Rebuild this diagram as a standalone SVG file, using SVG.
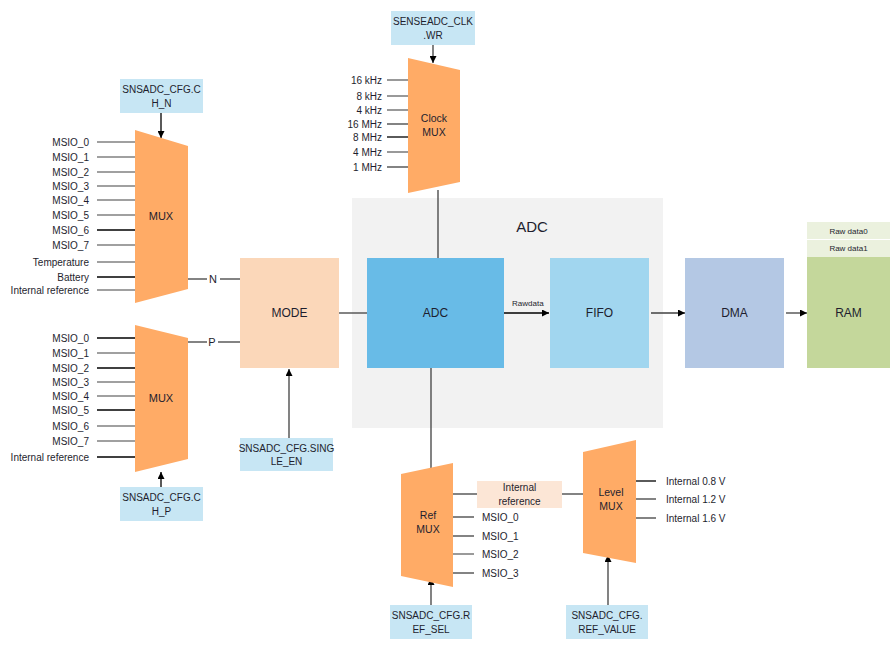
<svg xmlns="http://www.w3.org/2000/svg" width="890" height="646" viewBox="0 0 890 646">
<defs>
<style>
text{font-family:"Liberation Sans",Arial,sans-serif;fill:#1e1e2e;}
.s{font-size:10px;}
.r{text-anchor:end;}
.m{text-anchor:middle;}
.b{font-size:12px;}
.mux{fill:#FFAB66;}
.cfg{fill:#C7E6F4;}
.lk{stroke:#000;stroke-width:1.3;fill:none;}
.lg{stroke:#808080;stroke-width:1.6;fill:none;}
.ld{stroke:#404040;stroke-width:1.3;fill:none;}
</style>
<marker id="ah" viewBox="0 0 10 10" refX="10" refY="5" markerWidth="7" markerHeight="7" markerUnits="userSpaceOnUse" orient="auto">
<path d="M0,0 L10,5 L0,10 z" fill="#000"/>
</marker>
</defs>
<rect width="890" height="646" fill="#fff"/>

<g id="adc-area">
<rect x="352" y="198" width="311" height="230" fill="#F2F2F2"/>
<text x="532" y="232" class="m" font-size="15">ADC</text>
</g>

<g id="connectors">
<!-- MUX N inputs -->
<line x1="97" y1="142" x2="135" y2="142" class="lg"/>
<line x1="97" y1="157" x2="135" y2="157" class="lg"/>
<line x1="97" y1="172" x2="135" y2="172" class="lg"/>
<line x1="97" y1="186" x2="135" y2="186" class="lg"/>
<line x1="97" y1="200" x2="135" y2="200" class="lg"/>
<line x1="97" y1="215" x2="135" y2="215" class="lg"/>
<line x1="97" y1="230" x2="135" y2="230" class="lk"/>
<line x1="97" y1="245" x2="135" y2="245" class="lg"/>
<line x1="97" y1="262" x2="135" y2="262" class="lg"/>
<line x1="97" y1="277" x2="135" y2="277" class="lk"/>
<line x1="97" y1="290" x2="135" y2="290" class="lg"/>
<!-- MUX P inputs -->
<line x1="97" y1="338" x2="135" y2="338" class="lk"/>
<line x1="97" y1="353" x2="135" y2="353" class="lg"/>
<line x1="97" y1="368" x2="135" y2="368" class="lk"/>
<line x1="97" y1="382" x2="135" y2="382" class="lg"/>
<line x1="97" y1="396" x2="135" y2="396" class="lg"/>
<line x1="97" y1="410" x2="135" y2="410" class="lk"/>
<line x1="97" y1="426" x2="135" y2="426" class="lg"/>
<line x1="97" y1="441" x2="135" y2="441" class="lg"/>
<line x1="97" y1="457" x2="135" y2="457" class="lk"/>
<!-- N / P outputs -->
<line x1="188" y1="279" x2="207" y2="279" class="ld"/>
<line x1="220" y1="279" x2="240" y2="279" class="ld"/>
<line x1="188" y1="342" x2="207" y2="342" class="ld"/>
<line x1="218" y1="342" x2="240" y2="342" class="ld"/>
<!-- cfg arrows -->
<line x1="161" y1="113" x2="161" y2="138" class="lk" marker-end="url(#ah)"/>
<line x1="161" y1="487" x2="161" y2="472" class="lk" marker-end="url(#ah)"/>
<line x1="289" y1="438" x2="289" y2="369" class="ld" marker-end="url(#ah)"/>
<line x1="433" y1="45" x2="433" y2="63" class="ld" marker-end="url(#ah)"/>
<line x1="431" y1="605" x2="431" y2="578" class="ld" marker-end="url(#ah)"/>
<line x1="608" y1="605" x2="608" y2="555" class="ld" marker-end="url(#ah)"/>
<!-- clock inputs -->
<line x1="387" y1="80" x2="408" y2="80" class="lg"/>
<line x1="387" y1="96" x2="408" y2="96" class="lg"/>
<line x1="387" y1="110" x2="408" y2="110" class="lg"/>
<line x1="387" y1="124" x2="408" y2="124" class="ld"/>
<line x1="387" y1="137" x2="408" y2="137" class="lk"/>
<line x1="387" y1="152" x2="408" y2="152" class="lg"/>
<line x1="387" y1="167" x2="408" y2="167" class="ld"/>
<!-- clock mux to ADC -->
<line x1="438" y1="190" x2="438" y2="258" class="ld"/>
<!-- MODE to ADC -->
<line x1="339" y1="313" x2="367" y2="313" class="ld"/>
<!-- data path -->
<line x1="504" y1="313" x2="549" y2="313" class="lk" marker-end="url(#ah)"/>
<line x1="651" y1="313" x2="685" y2="313" class="ld" marker-end="url(#ah)"/>
<line x1="786" y1="313" x2="807" y2="313" class="ld" marker-end="url(#ah)"/>
<!-- ADC to Ref MUX -->
<line x1="431" y1="368" x2="431" y2="468" class="ld"/>
<!-- Ref MUX inputs -->
<line x1="453" y1="494" x2="477" y2="494" class="ld"/>
<line x1="562" y1="494" x2="583" y2="494" class="ld"/>
<line x1="453" y1="517" x2="474" y2="517" class="ld"/>
<line x1="453" y1="536" x2="474" y2="536" class="ld"/>
<line x1="453" y1="554" x2="474" y2="554" class="lg"/>
<line x1="453" y1="573" x2="474" y2="573" class="ld"/>
<!-- Level MUX outputs -->
<line x1="636" y1="481" x2="656" y2="481" class="lk"/>
<line x1="636" y1="499" x2="656" y2="499" class="ld"/>
<line x1="636" y1="518" x2="656" y2="518" class="ld"/>
</g>

<g id="mux-n">
<polygon points="135,130 188,146 188,289 135,303" class="mux"/>
<text x="161" y="220" class="m" font-size="11">MUX</text>
</g>
<g id="mux-n-labels">
<text x="89" y="146" class="s r">MSIO_0</text>
<text x="89" y="161" class="s r">MSIO_1</text>
<text x="89" y="176" class="s r">MSIO_2</text>
<text x="89" y="190" class="s r">MSIO_3</text>
<text x="89" y="204" class="s r">MSIO_4</text>
<text x="89" y="219" class="s r">MSIO_5</text>
<text x="89" y="234" class="s r">MSIO_6</text>
<text x="89" y="249" class="s r">MSIO_7</text>
<text x="89" y="266" class="s r">Temperature</text>
<text x="89" y="281" class="s r">Battery</text>
<text x="89" y="294" class="s r">Internal reference</text>
<text x="213" y="283" class="m" font-size="11">N</text>
</g>
<g id="cfg-ch-n">
<rect x="120" y="79" width="83" height="34" class="cfg"/>
<text x="161.5" y="93" class="s m">SNSADC_CFG.C</text>
<text x="161.5" y="107" class="s m">H_N</text>
</g>

<g id="mux-p">
<polygon points="135,325 188,338 188,459 135,472" class="mux"/>
<text x="161" y="402" class="m" font-size="11">MUX</text>
</g>
<g id="mux-p-labels">
<text x="89" y="342" class="s r">MSIO_0</text>
<text x="89" y="357" class="s r">MSIO_1</text>
<text x="89" y="372" class="s r">MSIO_2</text>
<text x="89" y="386" class="s r">MSIO_3</text>
<text x="89" y="400" class="s r">MSIO_4</text>
<text x="89" y="414" class="s r">MSIO_5</text>
<text x="89" y="430" class="s r">MSIO_6</text>
<text x="89" y="445" class="s r">MSIO_7</text>
<text x="89" y="461" class="s r">Internal reference</text>
<text x="212" y="346" class="m" font-size="11">P</text>
</g>
<g id="cfg-ch-p">
<rect x="120" y="487" width="83" height="34" class="cfg"/>
<text x="161.5" y="501" class="s m">SNSADC_CFG.C</text>
<text x="161.5" y="515" class="s m">H_P</text>
</g>

<g id="mode">
<rect x="240" y="258" width="99" height="110" fill="#FBD7B9"/>
<text x="289.5" y="317" class="b m">MODE</text>
</g>
<g id="cfg-single-en">
<rect x="240" y="438" width="93" height="33" class="cfg"/>
<text x="286.5" y="452" class="s m">SNSADC_CFG.SING</text>
<text x="286.5" y="465" class="s m">LE_EN</text>
</g>

<g id="clock-mux">
<polygon points="408,58 460,70 460,182 408,193" class="mux"/>
<text x="434" y="122" class="m" font-size="10.5">Clock</text>
<text x="434" y="136" class="m" font-size="10.5">MUX</text>
<text x="382" y="84" class="s r">16 kHz</text>
<text x="382" y="100" class="s r">8 kHz</text>
<text x="382" y="114" class="s r">4 kHz</text>
<text x="382" y="128" class="s r">16 MHz</text>
<text x="382" y="141" class="s r">8 MHz</text>
<text x="382" y="156" class="s r">4 MHz</text>
<text x="382" y="171" class="s r">1 MHz</text>
</g>
<g id="cfg-clk">
<rect x="391" y="11" width="84" height="34" class="cfg"/>
<text x="433" y="25" class="s m">SENSEADC_CLK</text>
<text x="433" y="39" class="s m">.WR</text>
</g>

<g id="adc">
<rect x="367" y="258" width="137" height="110" fill="#68BBE7"/>
<text x="435.5" y="317" class="b m">ADC</text>
<text x="512" y="306" font-size="8">Rawdata</text>
</g>
<g id="fifo">
<rect x="550" y="258" width="99" height="110" fill="#A1D6EF"/>
<text x="599.5" y="317" class="b m">FIFO</text>
</g>
<g id="dma">
<rect x="685" y="258" width="99" height="110" fill="#B4C8E4"/>
<text x="734.5" y="317" class="b m">DMA</text>
</g>
<g id="ram">
<rect x="807" y="222" width="83" height="17" fill="#EBF1DE"/>
<rect x="807" y="240" width="83" height="17" fill="#EBF1DE"/>
<rect x="807" y="257" width="83" height="111" fill="#C4D79B"/>
<text x="848.5" y="234" class="m" font-size="8">Raw data0</text>
<text x="848.5" y="251" class="m" font-size="8">Raw data1</text>
<text x="848.5" y="317" class="b m">RAM</text>
</g>

<g id="ref-mux">
<polygon points="401,474 453,463 453,587 401,576" class="mux"/>
<text x="428" y="519" class="m" font-size="10.5">Ref</text>
<text x="428" y="533" class="m" font-size="10.5">MUX</text>
<text x="482" y="521" class="s">MSIO_0</text>
<text x="482" y="540" class="s">MSIO_1</text>
<text x="482" y="558" class="s">MSIO_2</text>
<text x="482" y="577" class="s">MSIO_3</text>
</g>
<g id="internal-ref">
<rect x="477" y="481" width="85" height="27" fill="#FCE6D6"/>
<text x="519.5" y="491" class="s m">Internal</text>
<text x="519.5" y="505" class="s m">reference</text>
</g>
<g id="cfg-ref-sel">
<rect x="390" y="605" width="82" height="34" class="cfg"/>
<text x="431" y="619" class="s m">SNSADC_CFG.R</text>
<text x="431" y="633" class="s m">EF_SEL</text>
</g>

<g id="level-mux">
<polygon points="583,452 636,440 636,563 583,553" class="mux"/>
<text x="611" y="496" class="m" font-size="10.5">Level</text>
<text x="611" y="510" class="m" font-size="10.5">MUX</text>
<text x="666" y="485" class="s">Internal 0.8 V</text>
<text x="666" y="503" class="s">Internal 1.2 V</text>
<text x="666" y="522" class="s">Internal 1.6 V</text>
</g>
<g id="cfg-ref-value">
<rect x="566" y="605" width="82" height="34" class="cfg"/>
<text x="607" y="619" class="s m">SNSADC_CFG.</text>
<text x="607" y="633" class="s m">REF_VALUE</text>
</g>
</svg>
